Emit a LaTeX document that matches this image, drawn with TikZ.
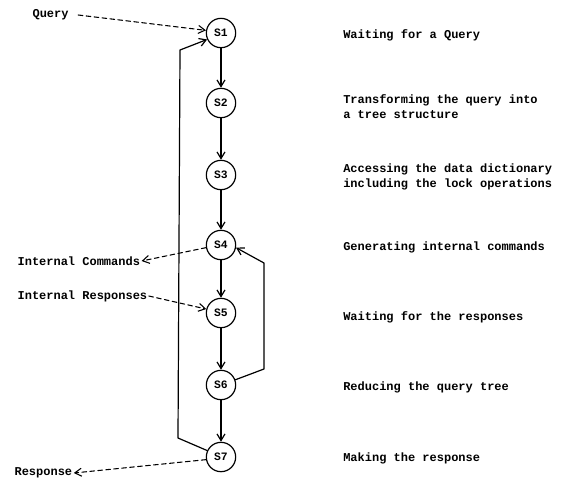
\documentclass[tikz,border=0pt]{standalone}
\usepackage{fontspec}
\setmonofont{Liberation Mono}
\usetikzlibrary{arrows.meta,positioning}

\begin{document}
\begin{tikzpicture}[
  x=0.75pt,y=-0.75pt,
  line cap=round,
  line join=round,
  >={Straight Barb[length=5pt,width=6pt]},
  state/.style={circle,draw=black,line width=0.9pt,minimum size=22pt,
    inner sep=0pt,font=\ttfamily\bfseries\fontsize{8.5}{10}\selectfont},
  flow/.style={black,line width=0.9pt,->},
  signal/.style={black,dash pattern=on 3.5pt off 2.5pt,line width=0.8pt,->},
  desc/.style={anchor=west,align=left,inner sep=0pt,
    font=\ttfamily\bfseries\fontsize{9}{11.25}\selectfont},
  ext/.style={anchor=west,inner sep=1pt,
    font=\ttfamily\bfseries\fontsize{9}{11.25}\selectfont}
]
\path[use as bounding box] (0,0) rectangle (562,480);

% states
\node[state] (S1) at (221,33) {S1};
\node[state] (S2) at (221,103) {S2};
\node[state] (S3) at (221,175) {S3};
\node[state] (S4) at (221,245) {S4};
\node[state] (S5) at (221,313) {S5};
\node[state] (S6) at (221,385) {S6};
\node[state] (S7) at (221,457) {S7};

\draw[flow] (S1) -- (S2);
\draw[flow] (S2) -- (S3);
\draw[flow] (S3) -- (S4);
\draw[flow] (S4) -- (S5);
\draw[flow] (S5) -- (S6);
\draw[flow] (S6) -- (S7);

% loops
\coordinate (backA) at (178,438);
\coordinate (backB) at (180,50);
\draw[flow] (S7.155) -- (backA) -- (backB) -- (S1.205);
\coordinate (redA) at (264,369);
\coordinate (redB) at (264,263);
\draw[flow] (S6.20) -- (redA) -- (redB) -- (S4.-10);

% external signals
\node[ext] (query) at (31,15) {Query};
\node[ext] (cmds) at (16,261) {Internal Commands};
\node[ext] (resps) at (16,296) {Internal Responses};
\node[ext] (resp) at (13,473) {Response};

\draw[signal] (query.east) ++(8,0) -- (S1.170);
\draw[signal] (S4.190) -- (cmds.east);
\draw[signal] (resps.east) -- (S5.165);
\draw[signal] (S7.190) -- (resp.east);

% descriptions
\node[desc] (d1) at (343,35) {Waiting for a Query};
\node[desc] (d2) at (343,107) {Transforming the query into\\a tree structure};
\node[desc] (d3) at (343,177) {Accessing the data dictionary\\including the lock operations};
\node[desc] (d4) at (343,247) {Generating internal commands};
\node[desc] (d5) at (343,317) {Waiting for the responses};
\node[desc] (d6) at (343,387) {Reducing the query tree};
\node[desc] (d7) at (343,458) {Making the response};
\end{tikzpicture}
\end{document}
